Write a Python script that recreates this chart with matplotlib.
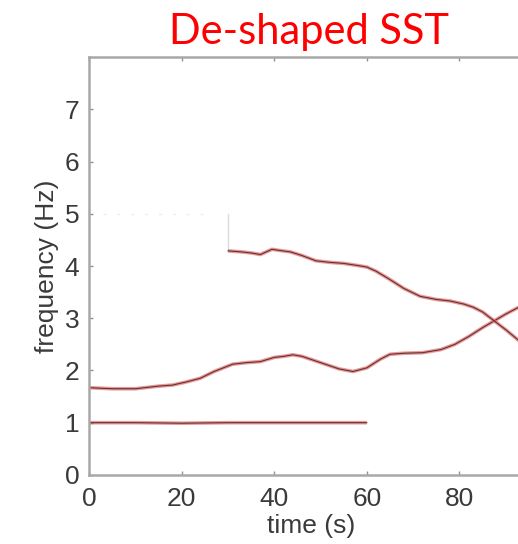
import numpy as np
import matplotlib.pyplot as plt

# ridge curves picked out of the de-shaped SST (time in s, frequency in Hz)
t_base = [0, 10, 20, 30, 40, 50, 60]
f_base = [1.0, 1.0, 0.99, 1.0, 1.0, 1.0, 1.0]

t_mid = [0, 5, 10, 15, 18, 21, 24, 27, 31, 34, 37, 40, 42, 44, 46, 50,
         54, 57, 60, 63, 65, 68, 72, 76, 79, 82, 85, 87.5, 90, 93, 96]
f_mid = [1.67, 1.65, 1.65, 1.70, 1.72, 1.78, 1.85, 1.98, 2.12, 2.15, 2.17,
         2.25, 2.27, 2.30, 2.27, 2.15, 2.03, 1.98, 2.05, 2.22, 2.31, 2.33,
         2.34, 2.40, 2.50, 2.65, 2.82, 2.95, 3.08, 3.22, 3.30]

t_top = [30, 33, 35, 37, 39.5, 41, 43.5, 46, 49, 52, 55, 58, 60, 62, 65,
         68, 71.5, 75, 78, 81, 83, 85, 87.5, 90, 93, 96]
f_top = [4.29, 4.27, 4.25, 4.22, 4.32, 4.30, 4.27, 4.20, 4.10, 4.07, 4.05,
         4.01, 3.98, 3.90, 3.74, 3.57, 3.42, 3.36, 3.33, 3.27, 3.21, 3.12,
         2.95, 2.78, 2.56, 2.45]

xticks = [0, 20, 40, 60, 80]
yticks = [0, 1, 2, 3, 4, 5, 6, 7]

fig = plt.figure(figsize=(5.18, 5.44), dpi=100)
ax = fig.add_axes([0.172, 0.127, 0.858, 0.768])

# faint leftovers of the transform
ax.plot([30, 30], [4.3, 5.0], color='#dcdcdc', lw=1)
ax.plot([3, 25], [5.0, 5.0], color='#ececec', lw=1, ls=(0, (2, 8)))

for t, f in [(t_base, f_base), (t_mid, f_mid), (t_top, f_top)]:
    ax.plot(t, f, color='#e86a6a', lw=2.6, alpha=0.7, solid_capstyle='butt')
    ax.plot(t, f, color='#2a1414', lw=0.8, alpha=0.75)

ax.set_xlim(0, 96)
ax.set_ylim(0, 8)
ax.set_xticks(xticks)
ax.set_yticks(yticks)

for s in ax.spines.values():
    s.set_color('#a8a8a8')
    s.set_linewidth(1.8)
ax.tick_params(direction='in', length=3, width=1, color='#909090',
               labelsize=19, labelcolor='#3a3a3a', top=True, right=True)
ax.tick_params(axis='x', pad=9)
ax.tick_params(axis='y', pad=7)
for lab in ax.get_xticklabels() + ax.get_yticklabels():
    lab.set_family('Liberation Sans')

ax.set_xlabel('time (s)', fontsize=19, color='#3a3a3a',
              family='Liberation Sans', labelpad=2)
ax.set_ylabel('frequency (Hz)', fontsize=19, color='#3a3a3a',
              family='Liberation Sans', labelpad=4)

fig.text(0.597, 0.906, 'De-shaped SST', color='#ff0000', fontsize=30,
         family='Lato', ha='center', va='bottom')

fig.savefig('out.png', dpi=100)
